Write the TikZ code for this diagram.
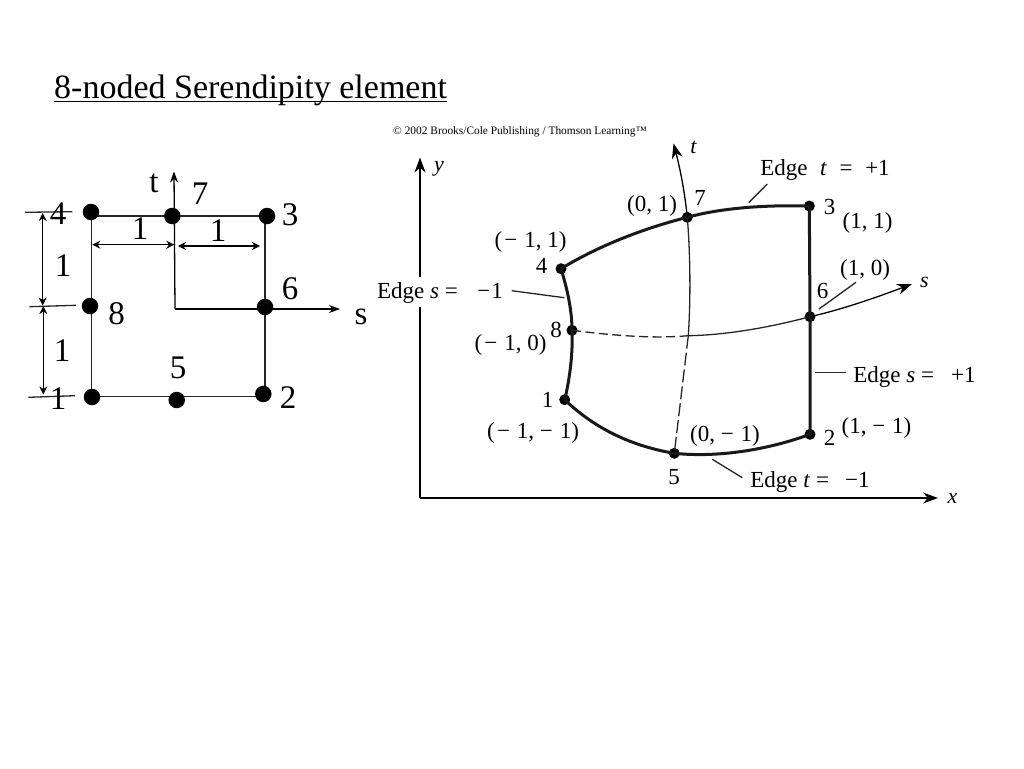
\documentclass[tikz,border=0pt]{standalone}
\usepackage{fontspec}
\setmainfont{Liberation Serif}
\usetikzlibrary{arrows.meta}
\newcommand{\mns}{−\hspace{0.3em}}
\tikzset{
  big/.style={inner sep=0pt,yshift=-1pt,font=\fontsize{33}{35}\selectfont},
  lab/.style={inner sep=0pt,font=\fontsize{23}{25}\selectfont},
  txtlab/.style={lab,yshift=-2.5pt},
  itlab/.style={inner sep=0pt,font=\fontsize{22}{24}\selectfont\itshape},
  bigdot/.style={circle,fill=black,inner sep=0pt,minimum size=16.5pt},
  dot/.style={circle,fill=black,inner sep=0pt,minimum size=11pt},
  thinline/.style={line width=1.3pt,black!85},
  edgeline/.style={line width=3pt,black!90},
  leader/.style={line width=1.3pt,black!85},
  smallarrow/.style={line width=1.3pt,{Stealth[length=8pt,width=8pt]}-{Stealth[length=8pt,width=8pt]}},
  axisarrow/.style={line width=1.3pt,-{Stealth[length=11pt,width=8pt]}},
  bigarrow/.style={line width=1.5pt,-{Stealth[length=15pt,width=11pt]}},
}
\begin{document}
\begin{tikzpicture}[x=1pt,y=-1pt]
\useasboundingbox (0,0) rectangle (1024,768);
\fill[white] (0,0) rectangle (1024,768);
% title
\node[inner sep=0pt,font=\fontsize{34}{36}\selectfont,anchor=base west] (title) at (54,98) {8-noded Serendipity element};
\coordinate (ulA) at (54,101.5);
\coordinate (ulB) at (447,101.5);
\draw[line width=1.8pt] (ulA) -- (ulB);
\node[inner sep=0pt,font=\fontsize{11.4}{12}\selectfont] (copy) at (520,132) {© 2002 Brooks/Cole Publishing / Thomson Learning™};
% ---------- left element
\coordinate (c4) at (91.7,216);
\coordinate (c3) at (265,216);
\coordinate (c2) at (265,396.7);
\coordinate (c1) at (91.7,396.7);
\coordinate (o) at (175,309);
\coordinate (tip-t) at (174,171.5);
\coordinate (tip-s) at (340,309);
\draw[thinline] (c4) -- (c3) -- (c2) -- (c1) -- cycle;
\draw[axisarrow] (o) -- (tip-t);
\draw[axisarrow] (o) -- (tip-s);
\node[bigdot] (L4) at (91,212) {};
\node[bigdot] (L7) at (172.3,216) {};
\node[bigdot] (L3) at (267,216) {};
\node[bigdot] (L6) at (265,307) {};
\node[bigdot] (L8) at (90,306) {};
\node[bigdot] (L1) at (92,397) {};
\node[bigdot] (L5) at (176.7,400) {};
\node[bigdot] (L2) at (263.3,394) {};
% ticks
\coordinate (t1a) at (25,212.3); \coordinate (t1b) at (72.3,211.7);
\coordinate (t2a) at (29.3,306.7); \coordinate (t2b) at (76,305.3);
\coordinate (t3a) at (28.3,397.3); \coordinate (t3b) at (75,395.7);
\draw[leader] (t1a) -- (t1b);
\draw[leader] (t2a) -- (t2b);
\draw[leader] (t3a) -- (t3b);
% dimensions
\coordinate (d1a) at (42.7,213); \coordinate (d1b) at (42.7,305.5);
\coordinate (d2a) at (43.3,306); \coordinate (d2b) at (43.3,394.5);
\coordinate (d3a) at (92.3,244.7); \coordinate (d3b) at (174.3,244.7);
\coordinate (d4a) at (178,246); \coordinate (d4b) at (260,246);
\draw[smallarrow] (d1a) -- (d1b);
\draw[smallarrow] (d2a) -- (d2b);
\draw[smallarrow] (d3a) -- (d3b);
\draw[smallarrow] (d4a) -- (d4b);
% left labels
\node[big] (lt) at (154,182) {t};
\node[big] (ls) at (361,316) {s};
\node[big] (l7) at (200,192.5) {7};
\node[big] (l4) at (58,213) {4};
\node[big] (l3) at (290,214) {3};
\node[big] (l6) at (290,288) {6};
\node[big] (l8) at (116.7,313) {8};
\node[big] (l5) at (178,367) {5};
\node[big] (l1b) at (58,398) {1};
\node[big] (l2) at (288,397) {2};
\node[big] (d1) at (140,228) {1};
\node[big] (d2) at (218,230) {1};
\node[big] (d3) at (63,265) {1};
\node[big] (d4) at (62,350) {1};
% ---------- right figure: axes
\coordinate (O) at (420,498);
\coordinate (ygapA) at (420,306.5);
\coordinate (ygapB) at (420,276.5);
\coordinate (ytip) at (420,157.5);
\coordinate (xtip) at (938,498);
\draw[line width=1.5pt] (O) -- (ygapA);
\draw[bigarrow] (ygapB) -- (ytip);
\draw[bigarrow] (O) -- (xtip);
\node[itlab] (ylab) at (439,169) {y};
\node[itlab] (xlab) at (952.5,498) {x};
% nodes
\node[dot] (R4) at (561,268.7) {};
\node[dot] (R8) at (572,330.3) {};
\node[dot] (R1) at (564.7,399.7) {};
\node[dot] (R5) at (674.3,453.3) {};
\node[dot] (R2) at (810,434.3) {};
\node[dot] (R6) at (810,316.7) {};
\node[dot] (R3) at (809.3,206) {};
\node[dot] (R7) at (687.3,217.3) {};
\coordinate (C) at (688.3,335.7);
\coordinate (ttip) at (673.5,143.5);
\coordinate (stip) at (912,284);
% edges
\draw[edgeline] (R4.center) .. controls (600,245) and (645,228) .. (R7.center);
\draw[edgeline] (R7.center) .. controls (725,207) and (770,205) .. (R3.center);
\draw[edgeline] (R3.center) -- (R6.center) -- (R2.center);
\draw[edgeline] (R2.center) .. controls (770,449) and (720,458) .. (R5.center);
\draw[edgeline] (R5.center) .. controls (625,445) and (590,424) .. (R1.center);
\draw[edgeline] (R1.center) .. controls (570,378) and (573,352) .. (R8.center);
\draw[edgeline] (R8.center) .. controls (572,310) and (567,288) .. (R4.center);
% s,t curves
\draw[thinline] (C) .. controls (691,295) and (690,250) .. (R7.center);
\draw[bigarrow,line width=1.3pt] (R7.center) .. controls (685,195) and (681,172) .. (ttip);
\draw[thinline] (C) .. controls (730,335) and (775,326) .. (R6.center);
\draw[bigarrow,line width=1.3pt] (R6.center) .. controls (840,310) and (875,298) .. (stip);
\draw[line width=1.3pt,dash pattern=on 9pt off 4.5pt,black!85] (R8.center) .. controls (610,335) and (650,339) .. (C);
\draw[line width=1.3pt,dash pattern=on 13pt off 4pt,black!85] (C) -- (R5.center);
% leaders
\coordinate (a1) at (511.7,290.7); \coordinate (a2) at (564.3,297.7);
\coordinate (b1) at (767.3,184); \coordinate (b2) at (748.7,202.7);
\coordinate (c1x) at (856,282.3); \coordinate (c2x) at (819,309);
\coordinate (e1) at (815,372.7); \coordinate (e2) at (846,372.7);
\coordinate (f1) at (712.3,459.3); \coordinate (f2) at (742.3,477.7);
\draw[leader] (a1) -- (a2);
\draw[leader] (b1) -- (b2);
\draw[leader] (c1x) -- (c2x);
\draw[leader] (e1) -- (e2);
\draw[leader] (f1) -- (f2);
% labels
\node[itlab] (tl) at (693.5,147) {t};
\node[itlab] (sl) at (924.5,282) {s};
\node[txtlab] (e-sm) at (440,290) {Edge \textit{s} =\hspace{0.6em} −\hspace{0.05em}1};
\node[txtlab] (e-tp) at (825,167.5) {Edge\hspace{0.3em} \textit{t}\hspace{0.3em} =\hspace{0.3em} +1};
\node[txtlab] (e-sp) at (914.5,374) {Edge \textit{s} =\hspace{0.5em} +1};
\node[txtlab] (e-tm) at (810,479.5) {Edge \textit{t} =\hspace{0.45em} −1};
\node[txtlab] (p4) at (530.5,239) {(\hspace{0.1em}\mns 1, 1)};
\node[txtlab] (p8) at (510.5,342) {(\hspace{0.1em}\mns 1, 0)};
\node[txtlab] (p1) at (533,430.5) {(\hspace{0.1em}\mns 1, \mns 1)};
\node[txtlab] (p7) at (652,203) {(0, 1)};
\node[txtlab] (p3) at (867.5,220.5) {(1, 1)};
\node[txtlab] (p6) at (865,267.5) {(1, 0)};
\node[txtlab] (p2) at (876.5,425) {(1, \mns 1)};
\node[txtlab] (p5) at (725,433.5) {(0, \mns 1)};
\node[lab] (n4) at (541.5,266) {4};
\node[lab] (n8) at (556,330) {8};
\node[lab] (n1) at (547.5,399.5) {1};
\node[lab] (n5) at (674,477) {5};
\node[lab] (n7) at (700,197.5) {7};
\node[lab] (n3) at (829.5,206.5) {3};
\node[lab] (n6) at (822.5,290.5) {6};
\node[lab] (n2) at (829.5,438) {2};
\end{tikzpicture}
\end{document}
